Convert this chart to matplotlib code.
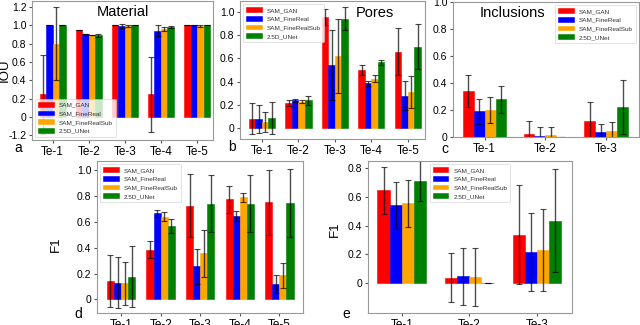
import matplotlib.pyplot as plt
import numpy as np

plt.rcParams["font.family"] = ["Liberation Sans", "DejaVu Sans"]

methods = ["SAM_GAN", "SAM_FineReal", "SAM_FineRealSub", "2.5D_UNet"]
colors = ["red", "blue", "orange", "green"]

te5 = ["Te-1", "Te-2", "Te-3", "Te-4", "Te-5"]
te3 = ["Te-1", "Te-2", "Te-3"]

# panel a: Material IOU (rows = methods, cols = Te sets)
mat_iou = [[0.25, 0.95, 1.00, 0.25, 1.00],
           [1.00, 0.90, 0.99, 0.94, 1.00],
           [0.80, 0.89, 0.99, 0.96, 0.99],
           [1.00, 0.89, 1.00, 0.98, 1.00]]
mat_err = [[0.43, 0.0, 0.0, 0.41, 0.0],
           [0.0, 0.0, 0.02, 0.06, 0.0],
           [0.40, 0.0, 0.01, 0.02, 0.01],
           [0.0, 0.02, 0.0, 0.01, 0.0]]

# panel b: Pores IOU
por_iou = [[0.085, 0.22, 0.955, 0.50, 0.655],
           [0.08, 0.24, 0.54, 0.385, 0.28],
           [0.055, 0.23, 0.62, 0.425, 0.31],
           [0.09, 0.24, 0.94, 0.565, 0.70]]
por_err = [[0.13, 0.025, 0.07, 0.045, 0.20],
           [0.12, 0.01, 0.30, 0.025, 0.125],
           [0.085, 0.01, 0.32, 0.03, 0.135],
           [0.135, 0.04, 0.10, 0.02, 0.19]]

# panel c: Inclusions IOU
inc_iou = [[0.34, 0.02, 0.12],
           [0.19, 0.01, 0.04],
           [0.20, 0.013, 0.045],
           [0.28, 0.0, 0.22]]
inc_err = [[0.12, 0.10, 0.14],
           [0.095, 0.065, 0.06],
           [0.095, 0.062, 0.065],
           [0.10, 0.0, 0.20]]

# panel d: Pores F1
por_f1 = [[0.14, 0.385, 0.725, 0.775, 0.75],
          [0.13, 0.665, 0.255, 0.645, 0.12],
          [0.125, 0.64, 0.355, 0.79, 0.185],
          [0.175, 0.565, 0.74, 0.74, 0.745]]
por_f1_err = [[0.20, 0.065, 0.245, 0.105, 0.25],
              [0.20, 0.025, 0.135, 0.035, 0.07],
              [0.165, 0.035, 0.185, 0.035, 0.095],
              [0.235, 0.055, 0.22, 0.22, 0.265]]

# panel e: Inclusions F1
inc_f1 = [[0.645, 0.035, 0.335],
          [0.54, 0.045, 0.215],
          [0.555, 0.04, 0.23],
          [0.71, 0.0, 0.435]]
inc_f1_err = [[0.165, 0.17, 0.345],
              [0.165, 0.20, 0.27],
              [0.165, 0.20, 0.285],
              [0.14, 0.0, 0.36]]

W, H = 640, 325
fig = plt.figure(figsize=(W / 100, H / 100), dpi=100)


def add_ax(l, t, r, b):
    return fig.add_axes([l / W, 1 - b / H, (r - l) / W, (b - t) / H])


def bars(ax, cats, vals, errs, xlim, ylim, yticks, ylabels, legend_loc):
    x = np.arange(len(cats))
    w = 0.18
    for i in range(4):
        ax.bar(x + (i - 1.5) * w, vals[i], w, yerr=errs[i], color=colors[i],
               edgecolor=colors[i], linewidth=0.4, label=methods[i],
               error_kw=dict(ecolor="black", alpha=0.7, lw=1, capsize=2.5,
                             capthick=0.8))
    ax.set_xticks(x)
    ax.set_xticklabels(cats, fontsize=8.5)
    ax.set_yticks(yticks)
    ax.set_yticklabels(ylabels, fontsize=7.5)
    ax.set_xlim(*xlim)
    ax.set_ylim(*ylim)
    ax.tick_params(length=2.5, pad=1.5, color="#555555")
    for s in ax.spines.values():
        s.set_color("#999999")
        s.set_linewidth(0.8)
    leg = ax.legend(loc=legend_loc, fontsize=4.6, framealpha=0.8,
                    handlelength=2.4, borderpad=0.5, labelspacing=0.5)
    leg.get_frame().set_linewidth(0.5)
    for t in leg.get_texts():
        t.set_color("#333333")


ticks6 = [0, 0.2, 0.4, 0.6, 0.8, 1.0]
labels6 = ["0", "0.2", "0.4", "0.6", "0.8", "1.0"]

ax_a = add_ax(32, 1, 213, 140)
bars(ax_a, te5, mat_iou, mat_err, (-0.57, 4.44), (-0.25, 1.265),
     [-0.2, 0, 0.2, 0.4, 0.6, 0.8, 1.0, 1.2],
     ["-1.2", "0", "0.2", "0.4", "0.6", "0.8", "1.0", "1.2"], "lower left")
ax_a.set_ylabel("IOU", fontsize=9.5)
ax_a.yaxis.set_label_coords(-0.12, 0.5)
ax_a.text(0.5, 0.92, "Material", transform=ax_a.transAxes, fontsize=10.5,
          ha="center", va="center")

ax_b = add_ax(240, 1, 425, 139)
bars(ax_b, te5, por_iou, por_err, (-0.6, 4.47), (-0.09, 1.09),
     ticks6, labels6, "upper left")
ax_b.text(0.73, 0.91, "Pores", transform=ax_b.transAxes, fontsize=10.5,
          ha="center", va="center")

ax_c = add_ax(453, 2, 639, 137)
bars(ax_c, te3, inc_iou, inc_err, (-0.52, 2.54), (0, 1.0),
     ticks6, labels6, "upper right")
ax_c.text(0.32, 0.92, "Inclusions", transform=ax_c.transAxes, fontsize=10.5,
          ha="center", va="center")

ax_d = add_ax(97, 161, 303, 313)
bars(ax_d, te5, por_f1, por_f1_err, (-0.61, 4.6), (-0.105, 1.07),
     ticks6, labels6, "upper left")
ax_d.set_ylabel("F1", fontsize=9.5)
ax_d.yaxis.set_label_coords(-0.17, 0.45)

ax_e = add_ax(368, 161, 572, 313)
bars(ax_e, te3, inc_f1, inc_f1_err, (-0.5, 2.52), (-0.21, 0.85),
     [0, 0.2, 0.4, 0.6, 0.8], ["0", "0.2", "0.4", "0.6", "0.8"],
     "upper center")
ax_e.set_ylabel("F1", fontsize=9.5)
ax_e.yaxis.set_label_coords(-0.135, 0.55)

for letter, px, py in [("a", 18, 148), ("b", 232, 147), ("c", 445, 149),
                       ("d", 78, 314), ("e", 346, 314)]:
    fig.text(px / W, 1 - py / H, letter, fontsize=10, ha="center", va="center")

fig.savefig("out.png", dpi=100)
